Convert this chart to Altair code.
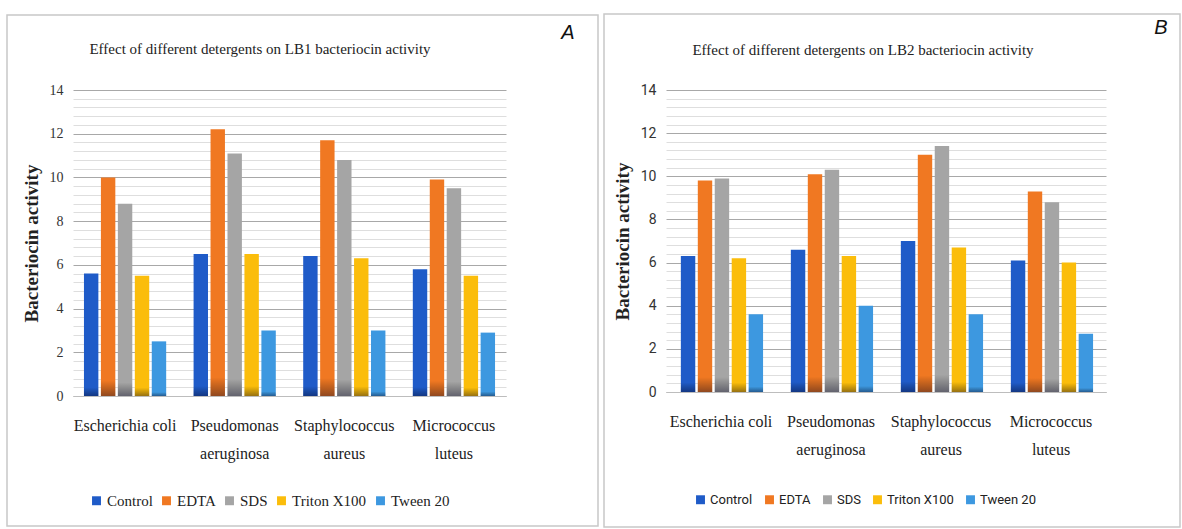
import altair as alt
import pandas as pd

organisms = ["Escherichia coli", "Pseudomonas aeruginosa", "Staphylococcus aureus", "Micrococcus luteus"]
treatments = ["Control", "EDTA", "SDS", "Triton X100", "Tween 20"]
colors = ["#1f5bc8", "#f07822", "#a5a5a5", "#fbbd0b", "#3d98e0"]

# LB1 (panel A)
lb1_control = [5.6, 6.5, 6.4, 5.8]
lb1_edta = [10.0, 12.2, 11.7, 9.9]
lb1_sds = [8.8, 11.1, 10.8, 9.5]
lb1_triton = [5.5, 6.5, 6.3, 5.5]
lb1_tween = [2.5, 3.0, 3.0, 2.9]

# LB2 (panel B)
lb2_control = [6.3, 6.6, 7.0, 6.1]
lb2_edta = [9.8, 10.1, 11.0, 9.3]
lb2_sds = [9.9, 10.3, 11.4, 8.8]
lb2_triton = [6.2, 6.3, 6.7, 6.0]
lb2_tween = [3.6, 4.0, 3.6, 2.7]

grid_values = [round(i * 0.4, 1) for i in range(36)]


def make_df(series):
    rows = []
    for t, vals in zip(treatments, series):
        for o, v in zip(organisms, vals):
            rows.append({"organism": o, "treatment": t, "value": v})
    return pd.DataFrame(rows)


df_a = make_df([lb1_control, lb1_edta, lb1_sds, lb1_triton, lb1_tween])
df_b = make_df([lb2_control, lb2_edta, lb2_sds, lb2_triton, lb2_tween])

serif = "Liberation Serif"
sans = "Liberation Sans Narrow, Roboto, Liberation Sans"

shade = {
    "gradient": "linear", "x1": 0, "y1": 0, "x2": 0, "y2": 1,
    "stops": [
        {"offset": 0, "color": "rgba(0,0,0,0)"},
        {"offset": 0.93, "color": "rgba(0,0,0,0)"},
        {"offset": 1, "color": "rgba(0,0,30,0.4)"},
    ],
}


def panel(df, title, letter, w, h, pad_in, pad_out, tick_font, legend_font, legend_size,
          legend_x, legend_y, legend_pad, title_x, title_y, letter_x, letter_y,
          box):
    x_enc = alt.X("organism:N", sort=organisms,
                  scale=alt.Scale(paddingInner=pad_in, paddingOuter=pad_out),
                  axis=alt.Axis(title=None, labelAngle=0, ticks=False,
                                labelFont=serif, labelFontSize=16,
                                labelColor="#222", labelPadding=21,
                                labelLineHeight=28, domainColor="#bdbdbd",
                                labelExpr="datum.label == 'Escherichia coli' ? datum.label : split(datum.label, ' ')"))
    xo_enc = alt.XOffset("treatment:N", sort=treatments,
                         scale=alt.Scale(paddingInner=0.15, paddingOuter=0.0))
    y_enc = alt.Y("value:Q", scale=alt.Scale(domain=[0, 14], nice=False),
                  axis=alt.Axis(title="Bacteriocin activity", values=grid_values,
                                labelExpr="datum.value % 2 == 0 ? format(datum.value, 'd') : ''",
                                ticks=False, domain=False,
                                labelFont=tick_font, labelFontSize=14,
                                labelColor="#333", labelPadding=10,
                                titleFont=serif, titleFontSize=19,
                                titleFontWeight="bold", titleColor="#222",
                                titlePadding=8,
                                gridColor={"condition": {"test": "datum.value % 2 == 0", "value": "#a8a8a8"},
                                           "value": "#dedede"}))
    bars = alt.Chart(df).mark_bar().encode(
        x=x_enc, xOffset=xo_enc, y=y_enc,
        color=alt.Color("treatment:N", sort=treatments,
                        scale=alt.Scale(domain=treatments, range=colors),
                        legend=alt.Legend(title=None, orient="none", direction="horizontal",
                                          legendX=legend_x, legendY=legend_y,
                                          symbolType="square", symbolSize=80,
                                          symbolStrokeWidth=0,
                                          labelFont=legend_font, labelFontSize=legend_size,
                                          labelColor="#222", columnPadding=legend_pad,
                                          labelOffset=3)),
    )
    shading = alt.Chart(df).mark_bar(fill=shade).encode(x=x_enc, xOffset=xo_enc, y=y_enc)
    one = pd.DataFrame({"k": [0]})
    border = alt.Chart(one).mark_rect(fill=None, stroke="#c8c8c8", strokeWidth=1.5).encode(
        x=alt.value(box[0]), x2=alt.value(box[1]), y=alt.value(box[2]), y2=alt.value(box[3]))
    title_mark = alt.Chart(one).mark_text(font=serif, fontSize=15, color="#222",
                                          align="center", baseline="middle").encode(
        x=alt.value(title_x), y=alt.value(title_y), text=alt.value(title))
    letter_mark = alt.Chart(one).mark_text(font="Liberation Sans", fontSize=20, fontStyle="italic",
                                           color="#111", align="center", baseline="middle").encode(
        x=alt.value(letter_x), y=alt.value(letter_y), text=alt.value(letter))
    return alt.layer(border, bars, shading, title_mark, letter_mark).properties(width=w, height=h)


chart_a = panel(df_a, "Effect of different detergents on LB1 bacteriocin activity", "A",
                433, 306, 0.25, 0.1, serif, serif, 15, 16, 403, 6,
                187, -41, 495, -57, (-66, 525, -75, 436))
chart_b = panel(df_b, "Effect of different detergents on LB2 bacteriocin activity", "B",
                440, 302, 0.27, 0.135, sans, sans, 13, 28, 403, 10,
                197, -40, 495, -62, (-62, 514, -76, 437))

chart = alt.hconcat(chart_a, chart_b, spacing=160, bounds="flush").resolve_scale(
    color="independent", x="independent", y="independent"
).properties(
    padding={"left": 6, "top": 13, "right": 0, "bottom": 0},
    background="white",
).configure_view(stroke=None)

chart.save("out.html", embed_options={"renderer": "svg", "actions": False})
